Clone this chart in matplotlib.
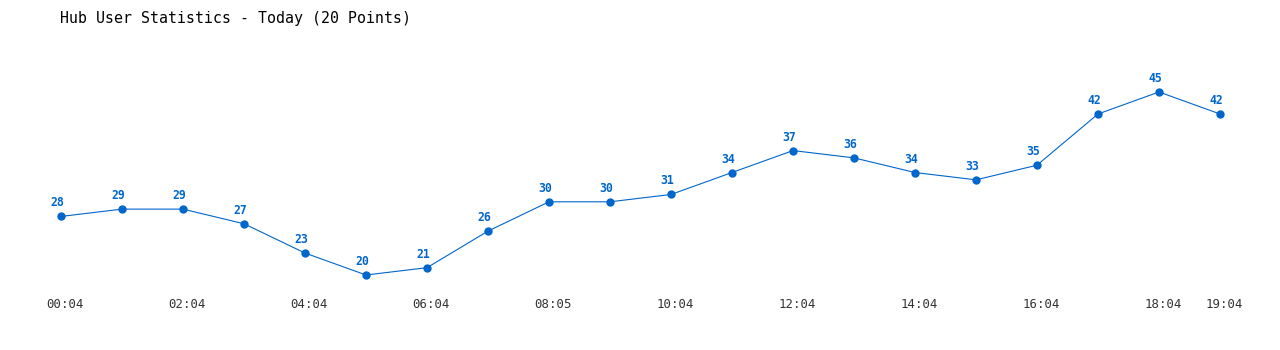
import matplotlib
matplotlib.use('Agg')
import matplotlib.pyplot as plt

values = [28, 29, 29, 27, 23, 20, 21, 26, 30, 30, 31, 34, 37, 36, 34, 33, 35, 42, 45, 42]
tick_idx = [0, 2, 4, 6, 8, 10, 12, 14, 16, 18, 19]
tick_labels = ['00:04', '02:04', '04:04', '06:04', '08:05', '10:04',
               '12:04', '14:04', '16:04', '18:04', '19:04']
title = 'Hub User Statistics - Today (20 Points)'

blue = '#0066cc'
mono = ['DejaVu Sans Mono', 'Liberation Mono']

fig = plt.figure(figsize=(12.8, 3.5), dpi=100)
ax = fig.add_axes([0, 0, 1, 1])
x = list(range(len(values)))

ax.plot(x, values, color=blue, linewidth=0.8, marker='o', markersize=5)

# value labels sit a little left of and above each point
for i, v in zip(x, values):
    ax.annotate(str(v), (i, v), xytext=(-4, 7), textcoords='offset pixels',
                ha='center', va='bottom', color=blue, fontsize=8.3,
                fontweight='bold', family=mono)

for i, lab in zip(tick_idx, tick_labels):
    ax.annotate(lab, (i, 0), xycoords=('data', 'axes fraction'),
                xytext=(4, 46), textcoords='offset pixels',
                ha='center', va='center', color='#333333', fontsize=8.9,
                family=mono)

fig.text(60 / 1280, 1 - 18 / 350, title, ha='left', va='center',
         fontsize=10.7, family=mono, color='black')

ax.set_xlim(-1, 1219 / 61)
ax.set_ylim(20 - 75 / 7.32, 20 + 275 / 7.32)
ax.axis('off')

plt.savefig('out.png', dpi=100)
